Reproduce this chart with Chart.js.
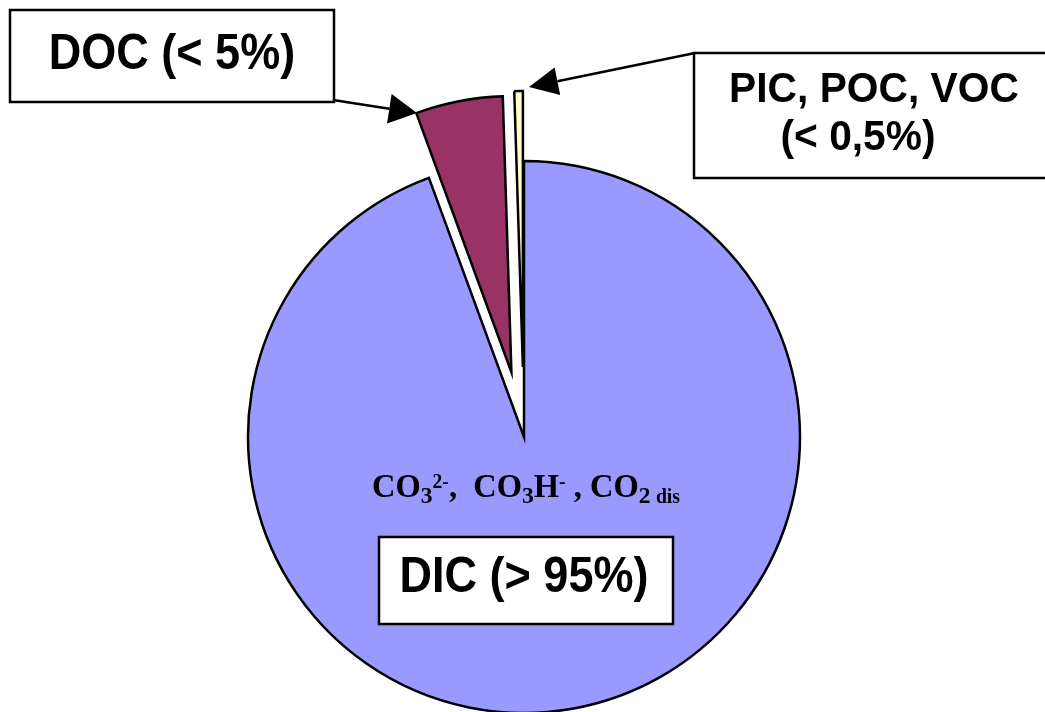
<!DOCTYPE html>
<html>
<head>
<meta charset="utf-8">
<title>Carbon fractions</title>
<script src="https://cdn.jsdelivr.net/npm/chart.js@4.4.1/dist/chart.umd.min.js"></script>
<style>
  html, body { margin: 0; padding: 0; background: #ffffff; }
  #wrap { width: 1045px; height: 712px; overflow: hidden; }
  canvas { display: block; }
</style>
</head>
<body>
<div id="wrap"><canvas id="chart" width="1045" height="712"></canvas></div>
<script>
// Carbon pools, clockwise from the top
const categories = ['DIC', 'DOC', 'PIC, POC, VOC'];
const shares = [94.4, 5.1, 0.5];
const boxLabels = ['DIC (> 95%)', 'DOC (< 5%)', ['PIC, POC, VOC', '(< 0,5%)']];
const sliceColors = ['#9999FF', '#993366', '#FFFFCC'];

// How far each slice is pulled out of the pie, in pixels
const pullOut = [0, 66, 70];

function drawBox(ctx, x, y, w, h) {
  ctx.fillStyle = '#ffffff';
  ctx.fillRect(x, y, w, h);
  ctx.lineWidth = 2.5;
  ctx.strokeStyle = '#000000';
  ctx.strokeRect(x, y, w, h);
}

function drawArrow(ctx, x1, y1, x2, y2, len, half) {
  const a = Math.atan2(y2 - y1, x2 - x1);
  const bx = x2 - Math.cos(a) * len, by = y2 - Math.sin(a) * len;
  ctx.strokeStyle = '#000000';
  ctx.lineWidth = 2.5;
  ctx.beginPath();
  ctx.moveTo(x1, y1);
  ctx.lineTo(bx, by);
  ctx.stroke();
  ctx.fillStyle = '#000000';
  ctx.beginPath();
  ctx.moveTo(x2, y2);
  ctx.lineTo(bx - Math.sin(a) * half, by + Math.cos(a) * half);
  ctx.lineTo(bx + Math.sin(a) * half, by - Math.cos(a) * half);
  ctx.closePath();
  ctx.fill();
}

// Centred text, squeezed horizontally by sx
function drawText(ctx, text, x, y, font, sx) {
  ctx.save();
  ctx.translate(x, y);
  ctx.scale(sx, 1);
  ctx.font = font;
  ctx.fillStyle = '#000000';
  ctx.textAlign = 'center';
  ctx.textBaseline = 'alphabetic';
  ctx.fillText(text, 0, 0);
  ctx.restore();
}

// Chemical formula of the dissolved inorganic species: runs of [text, size, baseline shift]
const formulaRuns = [
  ['CO', 33, 0], ['3', 24, 6], ['2-', 20, -9], [',  ', 33, 0],
  ['CO', 33, 0], ['3', 24, 6], ['H', 33, 0], ['-', 20, -9], [' , ', 33, 0],
  ['CO', 33, 0], ['2', 24, 6], [' ', 22, 0], ['dis', 20, 6]
];

function drawFormula(ctx, left, width, baseY) {
  const serif = 'px "Liberation Serif", "Times New Roman", serif';
  ctx.save();
  ctx.fillStyle = '#000000';
  ctx.textAlign = 'left';
  ctx.textBaseline = 'alphabetic';
  let total = 0;
  formulaRuns.forEach(r => {
    ctx.font = 'bold ' + r[1] + serif;
    total += ctx.measureText(r[0]).width;
  });
  ctx.translate(left, baseY);
  ctx.scale(width / total, 1);
  let x = 0;
  formulaRuns.forEach(r => {
    ctx.font = 'bold ' + r[1] + serif;
    ctx.fillText(r[0], x, r[2]);
    x += ctx.measureText(r[0]).width;
  });
  ctx.restore();
}

// Pulls the chosen arcs away from the centre along their mid-angle
const explode = {
  id: 'explode',
  afterUpdate(chart) {
    const meta = chart.getDatasetMeta(0);
    meta.data.forEach((arc, i) => {
      const d = pullOut[i];
      if (!d || arc._pulled) return;
      const baseDraw = arc.draw;
      arc._pulled = true;
      arc.draw = function (ctx, area) {
        const mid = (this.startAngle + this.endAngle) / 2;
        ctx.save();
        ctx.translate(Math.cos(mid) * d, Math.sin(mid) * d);
        baseDraw.call(this, ctx, area);
        ctx.restore();
      };
    });
  }
};

const annotations = {
  id: 'annotations',
  afterDraw(chart) {
    const ctx = chart.ctx;
    ctx.save();
    const sans = '"Liberation Sans", Arial, Helvetica, sans-serif';

    // DOC callout
    drawBox(ctx, 10, 10, 324, 92);
    drawText(ctx, boxLabels[1], 172, 69, 'bold 50px ' + sans, 0.9);
    drawArrow(ctx, 333, 100, 417, 113, 28, 15);

    // PIC / POC / VOC callout
    drawBox(ctx, 694, 53, 380, 125);
    drawText(ctx, boxLabels[2][0], 874, 102, 'bold 42px ' + sans, 0.97);
    drawText(ctx, boxLabels[2][1], 858, 150, 'bold 42px ' + sans, 0.97);
    drawArrow(ctx, 695, 53, 529, 87, 29, 14);

    // DIC label inside the main slice
    drawFormula(ctx, 372, 308, 497);
    drawBox(ctx, 379, 537, 294, 87);
    drawText(ctx, boxLabels[0], 524, 592, 'bold 50px ' + sans, 0.9);

    ctx.restore();
  }
};

new Chart(document.getElementById('chart'), {
  type: 'pie',
  data: {
    labels: categories,
    datasets: [{
      data: shares,
      backgroundColor: sliceColors,
      borderColor: '#000000',
      borderWidth: 2.5,
      borderJoinStyle: 'miter',
      radius: 276
    }]
  },
  options: {
    responsive: false,
    animation: false,
    events: [],
    radius: 276,
    layout: { padding: { left: 248, right: 245, top: 162, bottom: 0 } },
    plugins: {
      legend: { display: false },
      tooltip: { enabled: false },
      title: { display: false }
    }
  },
  plugins: [explode, annotations]
});
</script>
</body>
</html>
